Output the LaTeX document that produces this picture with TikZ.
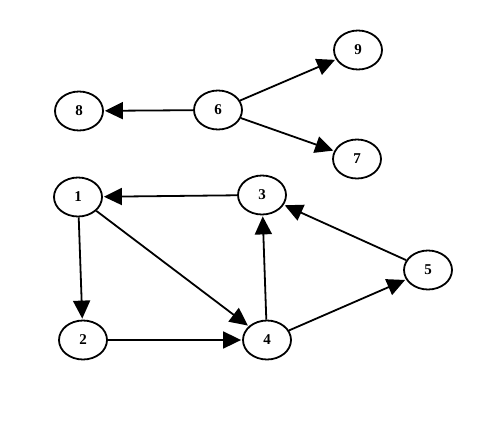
\documentclass[tikz,border=0pt]{standalone}
\usepackage{fontspec}
\setmainfont{Liberation Serif}
\usetikzlibrary{shapes.geometric,arrows.meta}
\begin{document}
\begin{tikzpicture}[x=1pt,y=-1pt,
  vnode/.style={draw,ellipse,line width=1.8pt,minimum width=48pt,minimum height=39pt,inner sep=0pt,font=\fontsize{15}{17}\selectfont\bfseries},
  edge/.style={line width=1.8pt,-{Triangle[length=18pt,width=17pt]},shorten >=1pt}]
\useasboundingbox (0,0) rectangle (500,437);
\node[vnode] (n9) at (358,50) {9};
\node[vnode] (n6) at (218,110) {6};
\node[vnode] (n8) at (79,111) {8};
\node[vnode] (n7) at (357,159) {7};
\node[vnode] (n1) at (78,197) {1};
\node[vnode] (n3) at (262,195) {3};
\node[vnode] (n5) at (428,270) {5};
\node[vnode] (n2) at (83,340) {2};
\node[vnode] (n4) at (267,340) {4};
\draw[edge] (n6) -- (n8);
\draw[edge] (n6) -- (n9);
\draw[edge] (n6) -- (n7);
\draw[edge] (n3) -- (n1);
\draw[edge] (n1) -- (n2);
\draw[edge] (n1) -- (n4);
\draw[edge] (n2) -- (n4);
\draw[edge] (n4) -- (n3);
\draw[edge] (n4) -- (n5);
\draw[edge] (n5) -- (n3);
\end{tikzpicture}
\end{document}
